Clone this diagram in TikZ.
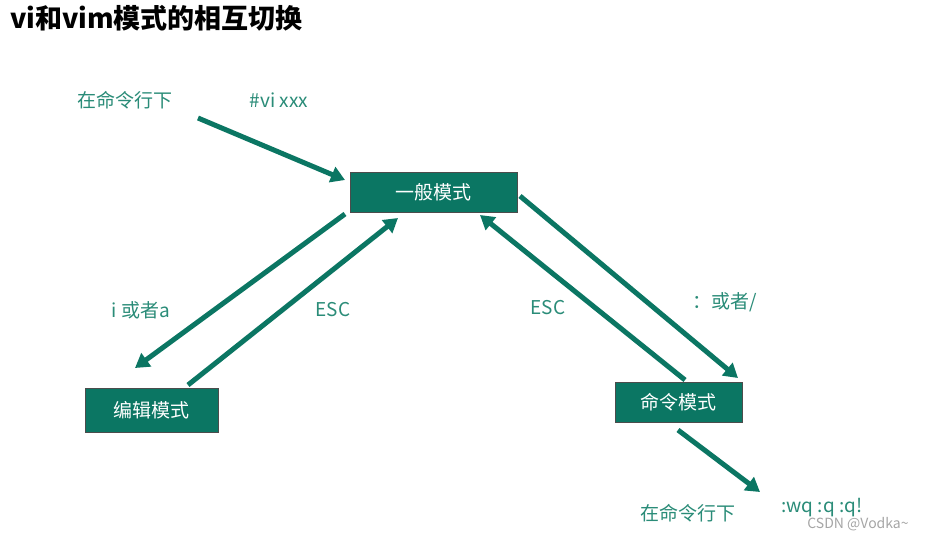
\documentclass[tikz,border=0pt]{standalone}
\usepackage{fontspec}
\setmainfont{Noto Sans CJK SC}
\usetikzlibrary{arrows.meta}
\definecolor{tealbox}{HTML}{0B7663}
\definecolor{tealtxt}{HTML}{2A8C78}
\begin{document}
\begin{tikzpicture}[x=1pt,y=-1pt,
  modebox/.style={draw=black!70,fill=tealbox,text=white,font=\fontsize{19}{22}\selectfont,minimum height=40pt,inner sep=0pt},
  lab/.style={text=tealtxt,font=\fontsize{19}{22}\selectfont,inner sep=0pt},
  arr/.style={draw=tealbox,line width=5pt,-{Triangle[length=14pt,width=16pt]}}]
\useasboundingbox[fill=white] (0,0) rectangle (944,539);
\node[anchor=west,font=\bfseries\fontsize{27}{30}\selectfont,inner sep=0pt] (title) at (10,18) {vi和vim模式的相互切换};
\node[lab] (l1) at (125,100) {在命令行下};
\node[lab] (l2) at (279,100) {\#vi xxx};
\node[modebox,minimum width=167pt] (g) at (433.5,192.5) {一般模式};
\node[modebox,minimum width=133pt,minimum height=44pt] (e) at (151.5,410) {编辑模式};
\node[modebox,minimum width=127pt] (c) at (678.5,402.5) {命令模式};
\coordinate (s0) at (198,118);
\coordinate (s1) at (345,180);
\draw[arr] (s0) -- (s1);
\coordinate (a0) at (345,214); \coordinate (a1) at (135,368);
\draw[arr] (a0) -- (a1);
\coordinate (b0) at (188,385); \coordinate (b1) at (398,218);
\draw[arr] (b0) -- (b1);
\coordinate (c0) at (685,380); \coordinate (c1) at (480,215);
\draw[arr] (c0) -- (c1);
\coordinate (d0) at (520,196); \coordinate (d1) at (738,378);
\draw[arr] (d0) -- (d1);
\coordinate (f0) at (678,430); \coordinate (f1) at (760,492);
\draw[arr] (f0) -- (f1);
\node[lab,font=\itshape\fontsize{19}{22}\selectfont] (li) at (141,310) {i 或者a};
\node[lab] (le1) at (333,310) {ESC};
\node[lab] (le2) at (548,308) {ESC};
\node[lab] (lc) at (725,302) {：或者/};
\node[lab] (l3) at (688,513) {在命令行下};
\node[lab] (l4) at (822,508) {:wq :q :q!};
\node[text=gray!70,font=\fontsize{14}{16}\selectfont,inner sep=0pt] (wm) at (858,524) {CSDN @Vodka\textasciitilde};
\end{tikzpicture}
\end{document}
